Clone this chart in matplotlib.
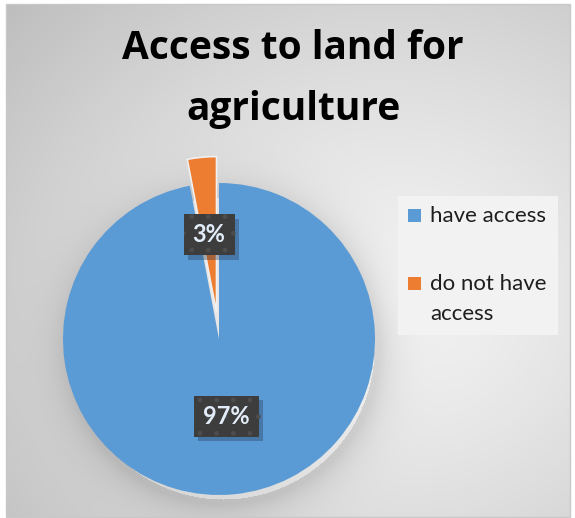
import matplotlib.pyplot as plt
import matplotlib.patches as mpatches
import matplotlib.patheffects as pe
import numpy as np

title_lines = ["Access to land for", "agriculture"]
labels = ["have access", "do not have\naccess"]
shares = [97, 3]
colors = ["#5b9bd5", "#ed7d31"]
explode = [0, 0.17]

W, H = 575, 518
fig = plt.figure(figsize=(W / 100, H / 100), dpi=100)
fig.patch.set_facecolor("white")

# radial grey gradient behind the chart
bg = fig.add_axes([0, 0, 1, 1])
yy, xx = np.mgrid[0:H, 0:W]
d = np.hypot((xx - 390) / 430.0, (yy - 300) / 380.0)
shade = 0.955 - 0.17 * np.clip(d, 0, 1.2) ** 1.3
# soft shadow under the pie
pd = np.hypot(xx - 223, yy - 348) - 156
shade -= 0.11 * np.exp(-np.clip(pd, 0, None) / 18.0) * (pd > -5)
img = np.dstack([shade] * 3)
x0, y0, x1, y1 = 6, 4, 570, 517
img[:, :x0] = 1
img[:, x1:] = 1
img[:y0] = 1
img[y1:] = 1
bg.imshow(np.clip(img, 0, 1), extent=[0, W, H, 0], aspect="auto")
bg.add_patch(mpatches.Rectangle((x0, y0), x1 - x0, y1 - y0, fill=False,
                                ec="#c8c8c8", lw=1))

# legend panel, drawn in pixel coordinates of the background axes
bg.add_patch(mpatches.Rectangle((398, 196), 160, 139, fc="#f2f2f2", ec="none"))
entry_y = [216, 284]
for lab, col, ey in zip(labels, colors, entry_y):
    bg.add_patch(mpatches.Rectangle((408, ey - 7), 13, 13, fc=col, ec="none"))
    for k, part in enumerate(lab.split("\n")):
        bg.text(430, ey + 30 * k, part, ha="left", va="center", fontsize=16,
                family="Lato", color="#1e1e1e")

bg.set_xlim(0, W)
bg.set_ylim(H, 0)
bg.axis("off")

# pie axes: 1 data unit = 156 px, centre at (219, 339)
r = 156.0
cx, cy = 219.0, 518 - 339.0
xl, xh, yl, yh = -1.1, 1.1, -1.1, 1.3
ax = fig.add_axes([(cx + xl * r) / W, (cy + yl * r) / H,
                   (xh - xl) * r / W, (yh - yl) * r / H])

wedges, texts, autotexts = ax.pie(
    shares, colors=colors, explode=explode, startangle=90, counterclock=False,
    autopct="%d%%", pctdistance=0.5, radius=1,
    wedgeprops=dict(linewidth=0),
    textprops=dict(fontsize=17, fontweight="bold", color="#e2edf9",
                   family="Lato"),
    frame=False)
wedges[1].set_edgecolor("#f0f0f0")
wedges[1].set_linewidth(1.2)
ax.set_aspect("auto")
ax.set_xlim(xl, xh)
ax.set_ylim(yl, yh)
ax.axis("off")

# dark dotted label boxes with a drop shadow
for t in autotexts:
    t.set_bbox(dict(boxstyle="square,pad=0.38", fc="#3d3d3d", ec="#4d4d4d",
                    lw=0, hatch="."))
    t.get_bbox_patch().set_path_effects(
        [pe.SimplePatchShadow(offset=(3, -3), shadow_rgbFace="#1f3550",
                              alpha=0.35), pe.Normal()])

for line, base in zip(title_lines, [59, 120]):
    fig.text(0.51, 1 - base / H, line, ha="center", va="baseline",
             fontsize=28, fontweight="bold", family="Open Sans", color="black")

fig.savefig("out.png", dpi=100)
